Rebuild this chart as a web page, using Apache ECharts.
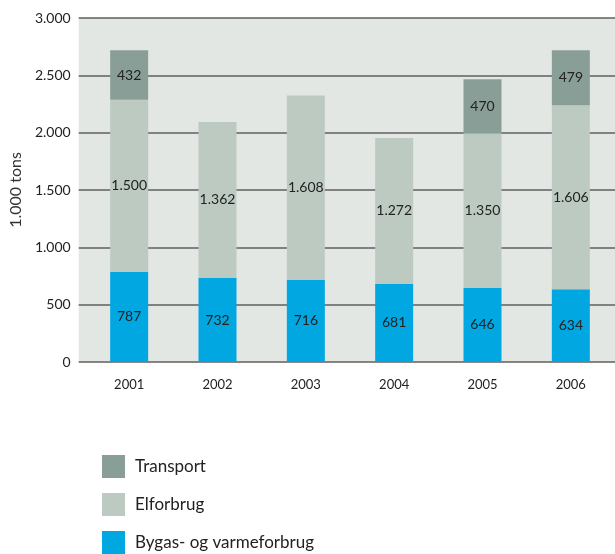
<!DOCTYPE html>
<html>
<head>
<meta charset="utf-8">
<script src="https://cdn.jsdelivr.net/npm/echarts@6/dist/echarts.min.js"></script>
<style>
  html, body { margin: 0; padding: 0; background: #fff; }
  #chart { width: 615px; height: 554px; }
</style>
</head>
<body>
<div id="chart"></div>
<script>
// CO2 emissions by source, 1.000 tons
const years = ['2001', '2002', '2003', '2004', '2005', '2006'];
const bygas = [787, 732, 716, 681, 646, 634];
const elforbrug = [1500, 1362, 1608, 1272, 1350, 1606];
const transport = [432, null, null, null, 470, 479];
const yTicks = [0, 500, 1000, 1500, 2000, 2500, 3000];

const FONT = 'Lato, "Open Sans", sans-serif';
const fmt = v => String(v).replace(/\B(?=(\d{3})+(?!\d))/g, '.');

const segLabel = {
  show: true,
  position: 'inside',
  color: '#222',
  fontFamily: FONT,
  fontSize: 14,
  formatter: p => (p.value == null ? '' : fmt(p.value))
};

const chart = echarts.init(document.getElementById('chart'), null, { renderer: 'canvas' });
chart.setOption({
  animation: false,
  grid: [
    // background panel with value axis and grid lines
    { left: 78, top: 18, width: 537, height: 344, show: true, backgroundColor: '#e2e7e4', borderWidth: 0 },
    // grid holding the bars
    { left: 85, top: 18, width: 534, height: 344 }
  ],
  xAxis: [
    { gridIndex: 0, type: 'category', data: years, show: false },
    {
      gridIndex: 1, type: 'category', data: years,
      axisLine: { show: false }, axisTick: { show: false },
      axisLabel: { color: '#222', fontFamily: FONT, fontSize: 13, margin: 16 }
    }
  ],
  yAxis: [
    {
      gridIndex: 0, type: 'value', min: 0, max: 3000, interval: 500,
      name: '1.000 tons', nameLocation: 'middle', nameGap: 52, nameRotate: 90,
      nameTextStyle: { color: '#333', fontFamily: FONT, fontSize: 16 },
      axisLine: { show: false }, axisTick: { show: false },
      axisLabel: {
        color: '#222', fontFamily: FONT, fontSize: 14, margin: 8,
        formatter: v => (yTicks.includes(v) ? fmt(v) : '')
      },
      splitLine: { show: true, lineStyle: { color: '#5f5f5f', width: 1.5 } }
    },
    { gridIndex: 1, type: 'value', min: 0, max: 3000, interval: 500, show: false, splitLine: { show: false } }
  ],
  legend: {
    orient: 'vertical', left: 102, top: 455, height: 99, padding: 0,
    itemWidth: 23, itemHeight: 23, itemGap: 15,
    icon: 'rect',
    data: ['Transport', 'Elforbrug', 'Bygas- og varmeforbrug'],
    textStyle: { color: '#222', fontFamily: FONT, fontSize: 17, padding: [0, 0, 0, 5] }
  },
  series: [
    {
      name: 'Bygas- og varmeforbrug', type: 'bar', stack: 'total',
      xAxisIndex: 1, yAxisIndex: 1, barWidth: 38,
      itemStyle: { color: '#00a7e1' }, label: segLabel, data: bygas
    },
    {
      name: 'Elforbrug', type: 'bar', stack: 'total',
      xAxisIndex: 1, yAxisIndex: 1, barWidth: 38,
      itemStyle: { color: '#bdcac2' }, label: segLabel, data: elforbrug
    },
    {
      name: 'Transport', type: 'bar', stack: 'total',
      xAxisIndex: 1, yAxisIndex: 1, barWidth: 38,
      itemStyle: { color: '#8a9e98' }, label: segLabel, data: transport
    }
  ]
});
</script>
</body>
</html>
